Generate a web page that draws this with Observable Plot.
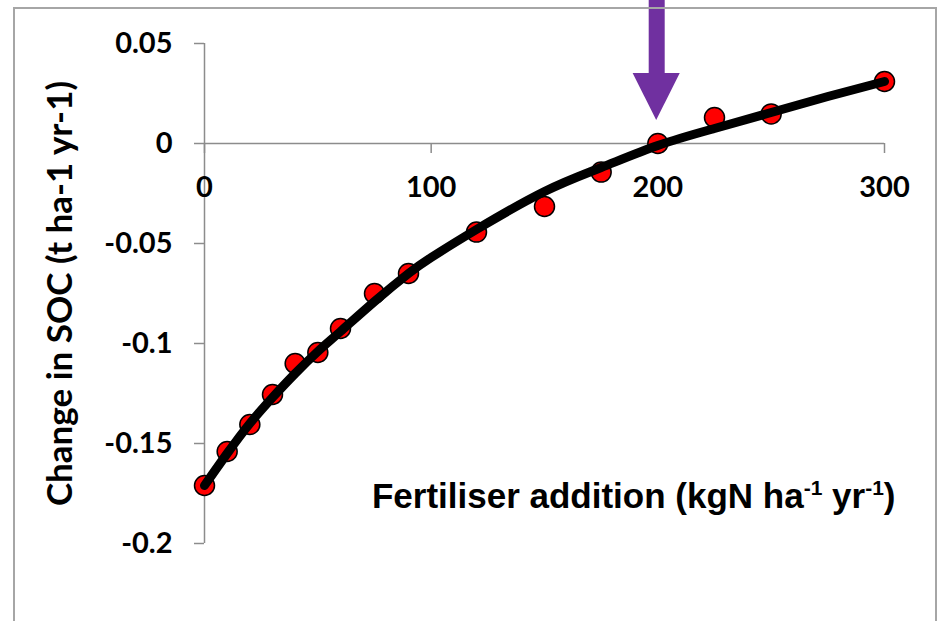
<!DOCTYPE html>
<html>
<head>
<meta charset="utf-8">
<script src="https://cdn.jsdelivr.net/npm/d3@7"></script>
<script src="https://cdn.jsdelivr.net/npm/@observablehq/plot@0.6"></script>
<style>
  html, body { margin: 0; padding: 0; background: #fff; overflow: hidden; }
  #wrap { position: relative; width: 942px; height: 621px; }
  #border { position: absolute; left: 13px; top: 7px; width: 924px; height: 700px;
            border: 2px solid #a6a6a6; box-sizing: border-box; pointer-events: none; }
</style>
</head>
<body>
<div id="wrap"><div id="border"></div></div>
<script>
// Measured points (fertiliser N, change in SOC)
const fertN = [0, 10, 20, 30, 40, 50, 60, 75, 90, 120, 150, 175, 200, 225, 250, 300];
const socChange = [-0.171, -0.154, -0.1405, -0.1255, -0.110, -0.1045, -0.0925, -0.075, -0.065, -0.0443, -0.0315, -0.0143, 0.0, 0.013, 0.0148, 0.031];

// Fitted trend curve
const curveN = [0, 10, 20, 30, 40, 50, 60, 75, 90, 100, 120, 150, 175, 200, 225, 250, 275, 300];
const curveSOC = [-0.171, -0.155, -0.140, -0.127, -0.115, -0.104, -0.094, -0.079, -0.065, -0.057, -0.043, -0.024, -0.012, -0.001, 0.0075, 0.0155, 0.0235, 0.031];

// Axis ticks
const xTicks = [0, 100, 200, 300];
const yTicks = [-0.2, -0.15, -0.1, -0.05, 0, 0.05];

// Annotation arrow (points to 200 kgN)
const arrowX = 199.5;
const arrowShaftTop = 0.0715;
const arrowHeadBase = 0.035;
const arrowTip = 0.0115;
const arrowHalfWidth = 10.4;

// Texts
const yTitle = "Change in SOC (t ha-1 yr-1)";
const xTitleParts = [
  {t: "Fertiliser addition (kgN ha", sup: false},
  {t: "-1", sup: true},
  {t: " yr", sup: false},
  {t: "-1", sup: true},
  {t: ")", sup: false}
];
const xTitle = xTitleParts.map(p => p.t).join("");
const xTitleY = -0.1767;

const points = fertN.map((x, i) => ({x, y: socChange[i]}));
const curve = curveN.map((x, i) => ({x, y: curveSOC[i]}));
const head = [
  {x: arrowX - arrowHalfWidth, y1: arrowHeadBase, y2: arrowHeadBase},
  {x: arrowX, y1: arrowHeadBase, y2: arrowTip},
  {x: arrowX + arrowHalfWidth, y1: arrowHeadBase, y2: arrowHeadBase}
];

const axisGray = "#8c8c8c";
const purple = "#7030a0";
const tickFont = 29;

const chart = Plot.plot({
  width: 942,
  height: 621,
  marginLeft: 204,
  marginRight: 58,
  marginTop: 43,
  marginBottom: 78,
  style: {fontFamily: "Lato", fontWeight: "bold", fontSize: "29px", color: "black", background: "transparent", overflow: "visible"},
  x: {domain: [0, 300], axis: null},
  y: {domain: [-0.2, 0.05]},
  marks: [
    Plot.ruleX([0], {y1: -0.2, y2: 0.05, stroke: axisGray, strokeWidth: 1.5}),
    Plot.ruleY([0], {x1: 0, x2: 300, stroke: axisGray, strokeWidth: 1.5}),
    Plot.ruleX(xTicks, {x: d => d, y1: 0, y2: 0, insetBottom: -10, stroke: axisGray, strokeWidth: 1.5}),
    Plot.axisY({ticks: yTicks, tickSize: 10, tickPadding: 22, tickFormat: d => String(d),
      stroke: axisGray, strokeWidth: 1.5, fill: "black", fontSize: tickFont, fontWeight: "bold", label: null}),
    Plot.text(xTicks, {x: d => d, y: 0, dy: 44, text: d => String(d), fontSize: tickFont, fontWeight: "bold", fill: "black"}),
    Plot.text([yTitle], {frameAnchor: "left", dx: -144, rotate: -90, textAnchor: "middle", lineAnchor: "middle",
      text: d => d, fontSize: 35, fontWeight: "bold", fontFamily: "Lato", fill: "black"}),
    Plot.text([xTitle], {x: 300, y: xTitleY, dx: 11, textAnchor: "end", text: d => d, fontSize: 35, fontWeight: "bold",
      fontFamily: "Liberation Sans", fill: "black", className: "xtitle"}),
    Plot.dot(points, {x: "x", y: "y", r: 10, fill: "#ff0000", stroke: "black", strokeWidth: 1.5}),
    Plot.line(curve, {x: "x", y: "y", stroke: "black", strokeWidth: 9, curve: "natural"}),
    Plot.ruleX([arrowX], {x: d => d, y1: arrowHeadBase, y2: arrowShaftTop, stroke: purple, strokeWidth: 16}),
    Plot.areaY(head, {x: "x", y1: "y1", y2: "y2", fill: purple})
  ]
});

document.getElementById("wrap").prepend(chart);

// rebuild x title with superscripts
const t = d3.select(chart).select("g.xtitle text");
if (!t.empty()) {
  t.text(null);
  const shift = 13;
  xTitleParts.forEach((p, i) => {
    const prevSup = i > 0 && xTitleParts[i - 1].sup;
    const sp = t.append("tspan").text(p.t);
    if (p.sup) sp.attr("font-size", 21).attr("dy", -shift);
    else if (prevSup) sp.attr("dy", shift);
  });
}
</script>
</body>
</html>
